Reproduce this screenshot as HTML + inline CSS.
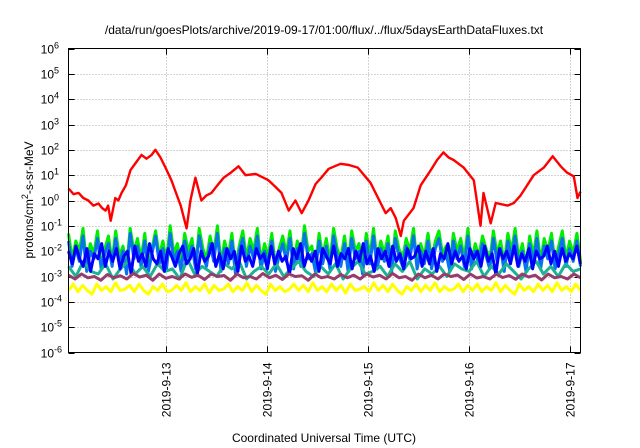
<!DOCTYPE html>
<html><head><meta charset="utf-8"><style>
body{margin:0;background:#fff}
svg{display:block;font-family:"Liberation Sans",sans-serif}
</style></head><body>
<svg id="chart" width="640" height="448" viewBox="0 0 640 448">
<text x="324" y="34" font-size="12" text-anchor="middle">/data/run/goesPlots/archive/2019-09-17/01:00/flux/../flux/5daysEarthDataFluxes.txt</text>
<g id="grid"></g>
<g id="yticks"></g>
<g id="xticks"></g>
<g id="series"></g>
<rect x="68.5" y="48.5" width="512" height="304" fill="none" stroke="#000" stroke-width="1"/>
<text transform="translate(33,200) rotate(-90)" font-size="12" text-anchor="middle">protons/cm<tspan dy="-5" font-size="9">2</tspan><tspan dy="5">-s-sr-MeV</tspan></text>
<text x="324" y="442" font-size="12" text-anchor="middle">Coordinated Universal Time (UTC)</text>
</svg>
<script>
const yExponents=[6,5,4,3,2,1,0,-1,-2,-3,-4,-5,-6];
const xTickHours=[24,48,72,96,120];
const xTickLabels=["2019-9-13","2019-9-14","2019-9-15","2019-9-16","2019-9-17"];
const redHours=[1,2.2,3.4,4.5,5.7,6.9,8.1,9.0,9.8,10.4,11,12.1,12.8,13.6,14.6,15.7,17.0,18.3,19.5,20.7,21.6,22.8,24,25.4,26.5,27.6,29,29.9,31.1,32.5,33.7,34.9,36.3,37.8,39.5,41.3,43,45.4,48.4,50.0,51.5,53.2,54.8,56.3,57.9,59.6,61.2,62.7,65.5,67.5,69.6,72.6,75,76.2,77.4,78.6,79.8,80.5,82.8,84.5,86.9,88.4,89.9,91.1,92.3,94.7,97.1,98.7,99.4,101.1,102.3,105.1,106.6,108.2,111.3,113.7,115.8,117.7,119.2,120.8,121.7,122.4];
const redLog=[0.47,0.25,0.3,0.1,0.0,-0.2,-0.12,-0.3,-0.4,-0.2,-0.8,0.1,0.0,0.3,0.6,1.2,1.5,1.8,1.65,1.8,2.0,1.7,1.3,0.8,0.3,-0.2,-1.1,0.0,0.9,0.0,0.2,0.3,0.6,0.9,1.1,1.35,1.0,1.05,0.8,0.55,0.3,-0.4,0.0,-0.5,0.0,0.65,0.95,1.25,1.45,1.4,1.3,0.7,-0.1,-0.5,-0.3,-0.7,-1.4,-0.8,-0.3,0.6,1.2,1.6,1.9,1.7,1.6,1.3,0.8,-1.0,0.3,-0.9,-0.1,-0.2,-0.1,0.2,1.0,1.3,1.75,1.35,1.1,0.95,0.1,0.35];
const bandStartHour=1, bandEndHour=122.4;
const greenLog=[-1.3,-2.3,-1.6,-2.0,-1.1,-2.5,-1.7,-2.1,-1.2,-2.6,-1.9,-1.4,-2.4,-1.2,-2.2,-1.8,-2.6,-1.1,-2.0,-1.5,-2.3,-1.3,-2.7,-1.9,-1.2,-2.2,-1.6,-2.4,-1.0,-2.1,-1.7,-2.5,-1.3,-2.0,-1.5,-2.6,-1.1,-1.9,-2.3,-1.4,-2.1,-1.0,-2.5,-1.6,-2.2,-1.3,-2.7,-1.8,-1.2,-2.3,-1.5,-2.0,-1.1,-2.4,-1.7,-2.2,-1.3,-2.6,-1.9,-1.4,-2.1,-1.2,-2.5,-1.6,-2.3,-1.0,-2.0,-1.8,-2.6,-1.3,-2.2,-1.5,-2.4,-1.1,-1.9,-2.3,-1.4,-2.5,-1.2,-2.0,-1.7,-2.6,-1.3,-2.2,-1.1,-2.4,-1.6,-2.1,-1.4,-2.7,-1.2,-1.9,-2.3,-1.5,-2.0,-1.1,-2.5,-1.7,-2.2,-1.3,-2.4,-1.6,-1.2,-2.1,-1.8,-2.6,-1.3,-2.0,-1.5,-2.3,-1.1,-2.5,-1.7,-2.2,-1.4,-1.9,-2.4,-1.2,-2.1,-1.6,-2.5,-1.3,-2.0,-1.1,-2.3,-1.7,-2.6,-1.4,-2.2,-1.2,-2.4,-1.5,-2.0,-1.3,-2.5,-1.8,-1.2,-2.3,-1.6,-2.1,-1.3,-2.4];
const lightBlueLog=[-1.6,-2.6,-1.9,-2.4,-1.4,-2.8,-2.0,-2.3,-1.5,-2.7,-2.1,-1.7,-2.6,-1.5,-2.5,-2.0,-2.9,-1.3,-2.3,-1.8,-2.6,-1.6,-2.8,-2.1,-1.4,-2.5,-1.9,-2.7,-1.3,-2.4,-2.0,-2.8,-1.6,-2.3,-1.8,-2.7,-1.4,-2.2,-2.6,-1.7,-2.4,-1.3,-2.8,-1.9,-2.5,-1.6,-2.9,-2.0,-1.5,-2.6,-1.8,-2.3,-1.4,-2.7,-2.0,-2.5,-1.6,-2.8,-2.2,-1.7,-2.4,-1.5,-2.7,-1.9,-2.6,-1.3,-2.3,-2.1,-2.8,-1.6,-2.5,-1.8,-2.7,-1.4,-2.2,-2.6,-1.7,-2.8,-1.5,-2.3,-2.0,-2.9,-1.6,-2.5,-1.4,-2.7,-1.9,-2.4,-1.7,-2.8,-1.5,-2.2,-2.6,-1.8,-2.3,-1.4,-2.7,-2.0,-2.5,-1.6,-2.7,-1.9,-1.5,-2.4,-2.1,-2.8,-1.6,-2.3,-1.8,-2.6,-1.4,-2.7,-2.0,-2.5,-1.7,-2.2,-2.7,-1.5,-2.4,-1.9,-2.8,-1.6,-2.3,-1.4,-2.6,-2.0,-2.8,-1.7,-2.5,-1.5,-2.7,-1.8,-2.3,-1.6,-2.7,-2.1,-1.5,-2.6,-1.9,-2.4,-1.6,-2.6];
const tealLog=[-2.6,-3.0,-2.4,-2.8,-2.9,-2.5,-3.1,-2.7,-2.4,-2.9,-2.6,-3.0,-2.5,-2.8,-2.7,-3.1,-2.3,-2.9,-2.6,-2.8,-3.0,-2.5,-2.7,-2.4,-3.1,-2.8,-2.6,-2.9,-2.5,-3.0,-2.7,-2.4,-2.8,-3.0,-2.6,-2.9,-2.5,-3.1,-2.7,-2.4,-2.9,-2.8,-2.6,-3.0,-2.5,-2.8,-2.4,-3.1,-2.7,-2.9,-2.6,-3.0,-2.5,-2.7,-2.8,-2.4,-3.0,-2.6,-2.9,-2.5,-2.8,-3.1,-2.7,-2.4,-2.9,-2.6,-3.0,-2.5,-2.8,-2.7];
const blueLog=[-2.0,-2.5,-1.8,-2.3,-2.6,-1.9,-2.8,-2.1,-2.3,-1.7,-2.6,-2.0,-2.4,-1.9,-2.7,-2.2,-2.0,-2.9,-1.8,-2.4,-2.1,-2.6,-1.7,-2.3,-2.5,-2.0,-2.8,-1.9,-2.2,-2.6,-2.1,-1.8,-2.5,-2.3,-1.9,-2.9,-2.0,-2.4,-2.2,-1.7,-2.6,-2.1,-2.7,-1.9,-2.3,-2.0,-2.8,-1.8,-2.4,-2.2,-2.6,-1.9,-2.3,-2.1,-2.7,-1.8,-2.5,-2.0,-2.4,-2.2,-2.9,-1.9,-2.3,-1.7,-2.6,-2.1,-2.4,-2.0,-2.8,-1.9,-2.2,-2.5,-1.8,-2.6,-2.1,-2.3,-1.9,-2.7,-2.0,-2.4,-1.7,-2.5,-2.2,-2.8,-1.9,-2.3,-2.0,-2.6,-1.8,-2.4,-2.1,-2.7,-1.9,-2.3,-2.2,-1.8,-2.6,-2.0,-2.5,-1.9,-2.8,-2.1,-2.3,-1.7,-2.5,-2.0,-2.4,-2.2,-2.7,-1.9,-2.3,-2.0,-2.6,-1.8,-2.4,-2.1,-2.9,-1.9,-2.3,-2.0,-2.5,-1.8,-2.6,-2.1,-2.4,-1.9,-2.7,-2.0,-2.3,-2.2,-1.8,-2.5,-2.0,-2.6,-1.9,-2.4,-2.1,-2.3,-1.8,-2.5];
const purpleLog=[-2.95,-3.1,-2.9,-3.05,-3.0,-3.15,-2.92,-3.05,-2.97,-3.1,-2.88,-3.02,-2.95,-3.15,-2.9,-3.07,-3.0,-3.1,-2.9,-3.03,-2.95,-3.12,-2.9,-3.0,-2.96,-3.15,-2.9,-3.05,-3.0,-3.1,-2.88,-3.05,-2.95,-3.12,-2.9,-3.0,-2.97,-3.15,-2.9,-3.05,-3.0,-3.1,-2.92,-3.05,-2.95,-3.1,-2.9,-3.02,-2.95,-3.1,-2.88,-3.05,-3.0,-3.15,-2.9,-3.05,-2.95,-3.1,-2.9,-3.0,-2.94,-3.12,-2.9,-3.06,-3.0,-3.1,-2.91,-3.04,-2.96,-3.11,-2.9,-3.02,-2.95,-3.14,-2.9,-3.05,-3.0,-3.1,-2.9,-3.05];
const yellowLog=[-3.55,-3.3,-3.6,-3.35,-3.55,-3.7,-3.3,-3.55,-3.4,-3.6,-3.25,-3.55,-3.5,-3.35,-3.6,-3.3,-3.55,-3.7,-3.4,-3.55,-3.3,-3.6,-3.55,-3.35,-3.55,-3.25,-3.6,-3.4,-3.55,-3.3,-3.65,-3.35,-3.55,-3.5,-3.3,-3.6,-3.4,-3.55,-3.25,-3.6,-3.35,-3.55,-3.7,-3.3,-3.55,-3.4,-3.6,-3.5,-3.3,-3.55,-3.35,-3.6,-3.25,-3.55,-3.4,-3.6,-3.3,-3.55,-3.35,-3.65,-3.3,-3.55,-3.5,-3.4,-3.6,-3.25,-3.55,-3.35,-3.6,-3.3,-3.55,-3.7,-3.4,-3.55,-3.3,-3.6,-3.35,-3.55,-3.25,-3.6,-3.4,-3.55,-3.5,-3.3,-3.6,-3.35,-3.55,-3.3,-3.6,-3.4,-3.55,-3.25,-3.6,-3.35,-3.55,-3.7,-3.3,-3.55,-3.4,-3.6,-3.3,-3.55,-3.35,-3.6,-3.25,-3.55,-3.4,-3.6,-3.3,-3.55];

const NS="http://www.w3.org/2000/svg";
const X0=68.5,X1=580.5,Y0=48.5,Y1=352.5;
const hMin=1,hMax=122.4;
function xs(h){return X0+(h-hMin)/(hMax-hMin)*(X1-X0);}
function ys(l){return Y0+(6-l)/12*(Y1-Y0);}
function mk(tag,attrs,parent){const e=document.createElementNS(NS,tag);for(const k in attrs)e.setAttribute(k,attrs[k]);parent.appendChild(e);return e;}
const grid=document.getElementById('grid'),yt=document.getElementById('yticks'),xt=document.getElementById('xticks'),ser=document.getElementById('series');
yExponents.forEach(function(ex){
  const y=Math.round(ys(ex))+0.5;
  if(ex<6&&ex>-6){const g=mk('line',{x1:X0,x2:X1,y1:y,y2:y,stroke:'#aaa','stroke-dasharray':'1,2'},grid);
    
    }
  const t1=mk('line',{x1:X0,x2:X0+6,y1:y,y2:y,stroke:'#000'},yt);
  
  
  const t2=mk('line',{x1:X1-6,x2:X1,y1:y,y2:y,stroke:'#000'},yt);
  
  
  const tx=mk('text',{x:54,y:y+4,'font-size':'12','text-anchor':'end'},yt);
  
  
  tx.textContent='10';
  const sp=mk('tspan',{x:54,dy:'-5','font-size':'9','text-anchor':'start'},tx);
  sp.textContent=String(ex);
});
xTickHours.forEach(function(h,i){
  const x=Math.round(xs(h))+0.5;
  const g=mk('line',{x1:x,x2:x,y1:Y0,y2:Y1,stroke:'#aaa','stroke-dasharray':'1,2'},grid);
  
  
  const t1=mk('line',{x1:x,x2:x,y1:Y1-6,y2:Y1,stroke:'#000'},xt);
  
  
  const t2=mk('line',{x1:x,x2:x,y1:Y0,y2:Y0+6,stroke:'#000'},xt);
  
  
  const tx=mk('text',{transform:'translate('+(x+4)+','+(Y1+10)+') rotate(-90)','font-size':'12','text-anchor':'end'},xt);
  
  
  tx.textContent=xTickLabels[i];
});
function bandPath(vals){
  const n=vals.length;
  return vals.map(function(v,i){const h=bandStartHour+i*(bandEndHour-bandStartHour)/(n-1);return (i?'L':'M')+xs(h).toFixed(1)+','+ys(v).toFixed(1);}).join('');
}
function draw(d,color,w,name){
  const p=mk('path',{d:d,fill:'none',stroke:color,'stroke-width':w,'stroke-linejoin':'round'},ser);
  
  
}
draw(bandPath(greenLog),'#00ee00',3,'series-green');
draw(bandPath(lightBlueLog),'#0a72f0',3,'series-light-blue');
draw(bandPath(tealLog),'#1ab394',3,'series-teal');
draw(bandPath(blueLog),'#0000ff',3,'series-blue');
draw(bandPath(purpleLog),'#973d6b',3,'series-purple');
draw(bandPath(yellowLog),'#ffff00',3,'series-yellow');
draw(redLog.map(function(v,i){return (i?'L':'M')+xs(redHours[i]).toFixed(1)+','+ys(v).toFixed(1);}).join(''),'#ff0000',2.4,'series-red');
</script>
</body></html>
